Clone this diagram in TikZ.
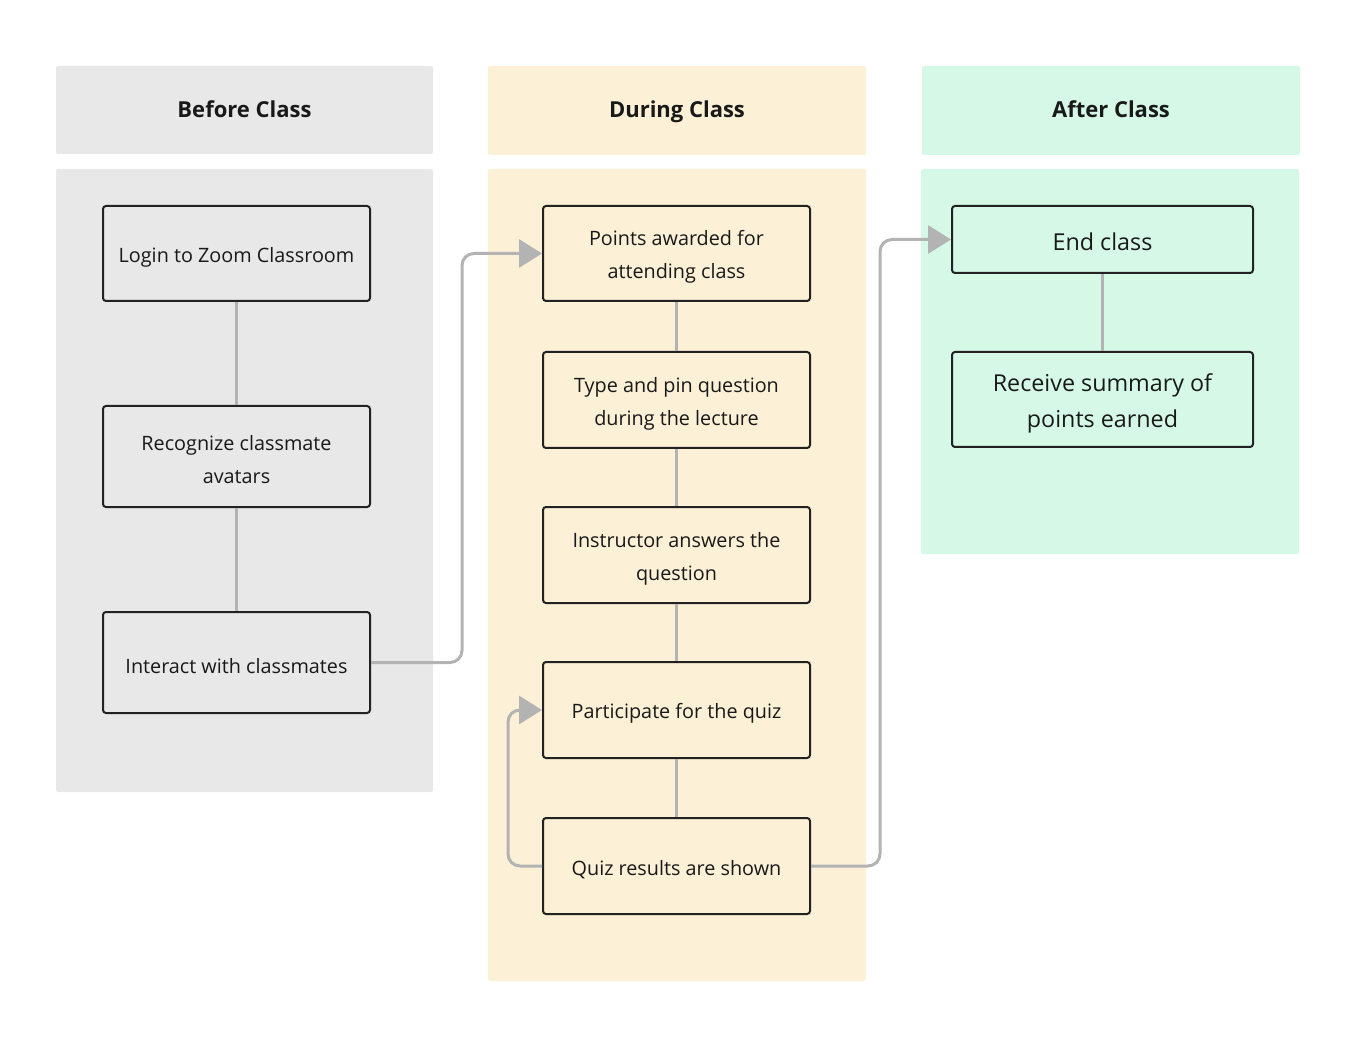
\documentclass[tikz,border=0pt]{standalone}
\usepackage{fontspec}
\setmainfont{Open Sans}
\usetikzlibrary{arrows.meta}
\definecolor{beforebg}{HTML}{E8E8E8}
\definecolor{duringbg}{HTML}{FCF0D6}
\definecolor{afterbg}{HTML}{D5F9E6}
\definecolor{conn}{HTML}{B3B3B3}
\definecolor{boxline}{HTML}{222222}
\tikzset{
  header/.style={draw=none, rounded corners=2pt, font=\fontsize{22}{26}\selectfont\bfseries,
    text=black!90, text height=15.7pt, text depth=1pt},
  stepbox/.style={draw=boxline, line width=2pt, rounded corners=3pt, inner sep=0pt},
  boxtext/.style={align=center, font=\fontsize{19.8}{33}\selectfont, text=black!90, inner sep=0pt},
  bigtext/.style={boxtext, font=\fontsize{23.3}{36}\selectfont},
  link/.style={draw=conn, line width=3pt},
  flow/.style={link, rounded corners=12pt, -{Triangle[length=23pt,width=28pt]}},
}
\begin{document}
\begin{tikzpicture}[x=1pt,y=-1pt]
\useasboundingbox (0,0) rectangle (1358,1048);
% lanes
\fill[beforebg, rounded corners=2pt] (56,169) rectangle (433,792);
\fill[duringbg, rounded corners=2pt] (488,169) rectangle (866,981);
\fill[afterbg, rounded corners=2pt] (921,169) rectangle (1299,554);
% headers
\node[header, fill=beforebg, minimum width=377pt, minimum height=88pt] (hb) at (244.5,110) {Before Class};
\node[header, fill=duringbg, minimum width=378pt, minimum height=89pt] (hd) at (677,110.5) {During Class};
\node[header, fill=afterbg, minimum width=378pt, minimum height=89pt] (ha) at (1111,110.5) {After Class};
% before boxes
\node[stepbox, minimum width=267pt, minimum height=95pt] (b1) at (236.5,253.5) {};
\node[stepbox, minimum width=267pt, minimum height=101pt] (b2) at (236.5,456.5) {};
\node[stepbox, minimum width=267pt, minimum height=101pt] (b3) at (236.5,662.5) {};
\node[boxtext] (b1t) at ([yshift=-3.5pt]b1.center) {Login to Zoom Classroom};
\node[boxtext] (b2t) at ([yshift=-3.5pt]b2.center) {Recognize classmate\\avatars};
\node[boxtext] (b3t) at ([yshift=-3.5pt]b3.center) {Interact with classmates};
% during boxes
\node[stepbox, minimum width=267pt, minimum height=95pt] (d1) at (676.5,253.5) {};
\node[stepbox, minimum width=267pt, minimum height=96pt] (d2) at (676.5,400) {};
\node[stepbox, minimum width=267pt, minimum height=96pt] (d3) at (676.5,555) {};
\node[stepbox, minimum width=267pt, minimum height=96pt] (d4) at (676.5,710) {};
\node[stepbox, minimum width=267pt, minimum height=96pt] (d5) at (676.5,866) {};
\node[boxtext] (d1t) at ([yshift=-3.5pt]d1.center) {Points awarded for\\attending class};
\node[boxtext] (d2t) at ([yshift=-3.5pt]d2.center) {Type and pin question\\during the lecture};
\node[boxtext] (d3t) at ([yshift=-3.5pt]d3.center) {Instructor answers the\\question};
\node[boxtext] (d4t) at ([yshift=-3.5pt]d4.center) {Participate for the quiz};
\node[boxtext] (d5t) at ([yshift=-3.5pt]d5.center) {Quiz results are shown};
% after boxes
\node[stepbox, minimum width=301pt, minimum height=67pt] (a1) at (1102.5,239.5) {};
\node[stepbox, minimum width=301pt, minimum height=95pt] (a2) at (1102.5,399.5) {};
\node[bigtext] (a1t) at ([yshift=-2pt]a1.center) {End class};
\node[bigtext] (a2t) at ([yshift=-4pt]a2.center) {Receive summary of\\points earned};
% vertical links
\draw[link] (b1) -- (b2);
\draw[link] (b2) -- (b3);
\draw[link] (d1) -- (d2);
\draw[link] (d2) -- (d3);
\draw[link] (d3) -- (d4);
\draw[link] (d4) -- (d5);
\draw[link] (a1) -- (a2);
% flow arrows
\coordinate (c1) at (462,0);
\coordinate (c2) at (508,0);
\coordinate (c3) at (880,0);
\draw[flow] (b3.east) -- (c1 |- b3.east) -- (c1 |- d1.west) -- (d1.west);
\draw[flow] (d5.west) -- (c2 |- d5.west) -- (c2 |- d4.west) -- (d4.west);
\draw[flow] (d5.east) -- (c3 |- d5.east) -- (c3 |- a1.west) -- (a1.west);
\end{tikzpicture}
\end{document}
